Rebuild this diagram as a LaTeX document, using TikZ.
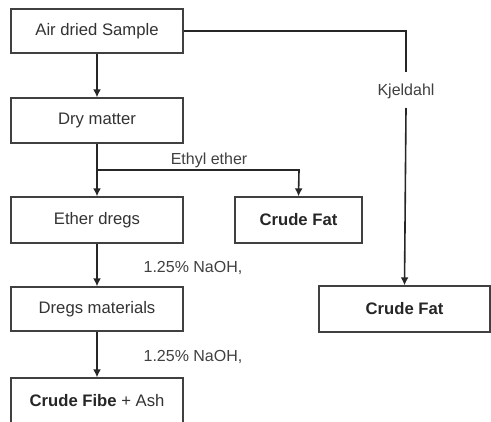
\documentclass[tikz,border=0pt]{standalone}
\usepackage{fontspec}
\setmainfont{Liberation Sans}
\usetikzlibrary{arrows.meta}
\begin{document}
\begin{tikzpicture}[x=0.75pt,y=-0.75pt,
  box/.style={draw=black!75,line width=1pt,fill=white,inner sep=0pt,text=black!80,font=\fontsize{12.5}{14}\selectfont},
  lbl/.style={inner sep=0pt,text=black!75,font=\fontsize{12}{14}\selectfont},
  conn/.style={draw=black!85,line width=1.2pt},
  arr/.style={conn,-{Latex[length=6pt,width=6pt]}}]
\useasboundingbox (0,0) rectangle (491,421);
\node[box,minimum width=172*0.75pt,minimum height=44*0.75pt] (air) at (97,31) {Air dried Sample};
\node[box,minimum width=172*0.75pt,minimum height=45*0.75pt] (dry) at (97,120.5) {Dry matter};
\node[box,minimum width=172*0.75pt,minimum height=46*0.75pt] (ether) at (97,220) {Ether dregs};
\node[box,minimum width=127*0.75pt,minimum height=46*0.75pt,font=\fontsize{12.5}{14}\selectfont\bfseries,text=black!85] (fat1) at (298.5,220) {Crude Fat};
\node[box,minimum width=172*0.75pt,minimum height=44*0.75pt] (dregs) at (97,309) {Dregs materials};
\node[box,minimum width=172*0.75pt,minimum height=46*0.75pt] (fibe) at (97,401) {\textbf{\textcolor{black!85}{Crude Fibe}} + Ash};
\node[box,minimum width=171*0.75pt,minimum height=46*0.75pt,font=\fontsize{12.5}{14}\selectfont\bfseries,text=black!85] (fat2) at (404.5,309) {Crude Fat};
\coordinate (k1) at (406,31);
\coordinate (k2) at (406,72);
\coordinate (k3) at (406,108);
\coordinate (br) at (97,170);
\coordinate (br2) at (299,170);
\node[lbl] (kj) at (406,91) {Kjeldahl};
\node[lbl] (ee) at (209,160) {Ethyl ether};
\node[lbl] (n1) at (193,268) {1.25\% NaOH,};
\node[lbl] (n2) at (193,357) {1.25\% NaOH,};
\draw[arr] (air.south) -- (dry.north);
\draw[arr] (dry.south) -- (ether.north);
\draw[arr] (br) -- (br2) -- (fat1.north);
\draw[arr] (ether.south) -- (dregs.north);
\draw[arr] (dregs.south) -- (fibe.north);
\draw[conn] (air.east) -- (k1) -- (k2);
\draw[arr] (k3) -- (fat2.north);
\end{tikzpicture}
\end{document}
